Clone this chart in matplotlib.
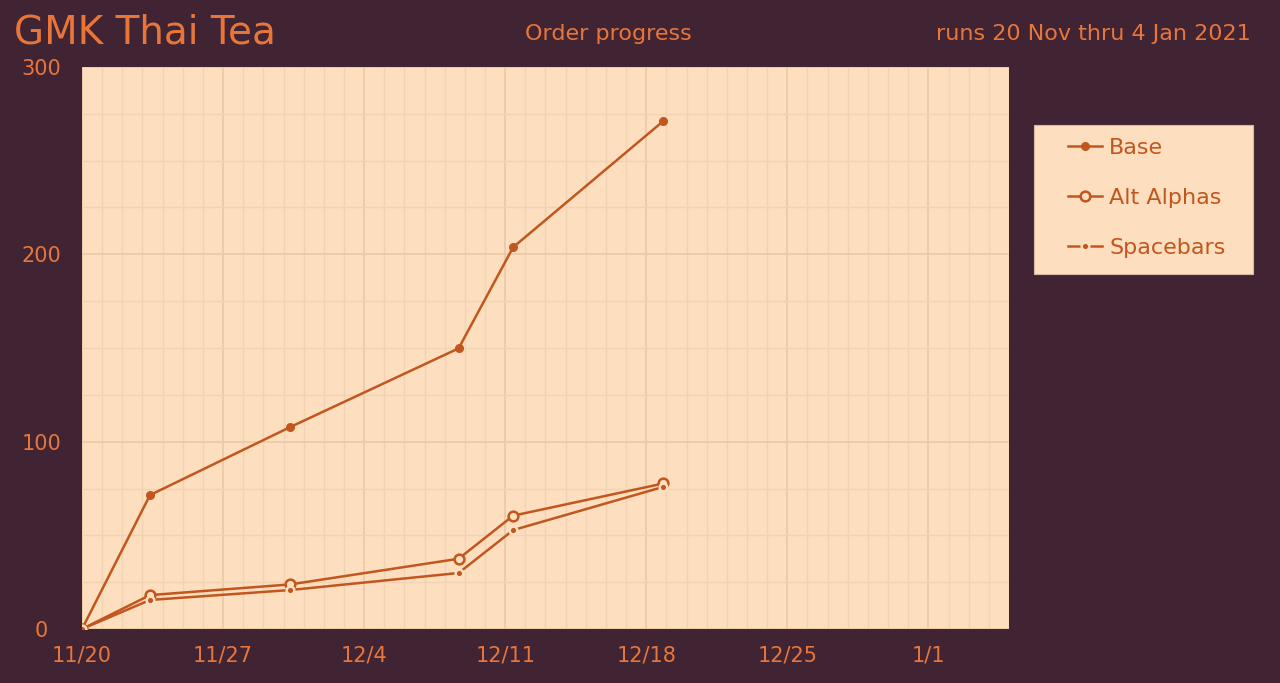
import matplotlib.pyplot as plt
import matplotlib.dates as mdates
from matplotlib.ticker import MultipleLocator
from matplotlib.patches import Rectangle
from datetime import datetime

# data
base_dates = ["2020-11-20 00:00", "2020-11-23 09:00", "2020-11-30 08:00",
              "2020-12-08 16:30", "2020-12-11 09:30", "2020-12-18 20:30"]
base = [0, 71.5, 107.8, 149.8, 203.8, 271.2]
alt_alphas = [0, 18.1, 23.8, 37.5, 60.5, 77.7]
spacebars = [0, 15.5, 20.8, 29.9, 52.8, 75.9]
x_ticks = ["2020-11-20", "2020-11-27", "2020-12-04", "2020-12-11",
           "2020-12-18", "2020-12-25", "2021-01-01"]
x_tick_labels = ["11/20", "11/27", "12/4", "12/11", "12/18", "12/25", "1/1"]
y_ticks = [0, 100, 200, 300]

dates = [datetime.strptime(d, "%Y-%m-%d %H:%M") for d in base_dates]
tick_dates = [datetime.strptime(d, "%Y-%m-%d") for d in x_ticks]

bg = "#402433"
panel = "#FDDFBF"
line_c = "#C2561F"
text_c = "#E8763A"

plt.rcParams['font.family'] = ['DejaVu Sans']

fig = plt.figure(figsize=(12.8, 6.83), dpi=100, facecolor=bg)
ax = fig.add_axes([82 / 1280, 54 / 683, 927 / 1280, 562 / 683])
ax.set_facecolor(panel)

ax.plot(dates, base, color=line_c, lw=1.8, marker='o', ms=5.5,
        mfc=line_c, mec=line_c, label="Base", zorder=4)
ax.plot(dates, alt_alphas, color=line_c, lw=1.8, marker='o', ms=7,
        mfc=panel, mec=line_c, mew=1.8, label="Alt Alphas", zorder=4)
ax.plot(dates, spacebars, color=line_c, lw=1.8, marker='o', ms=5.5,
        mfc=line_c, mec=panel, mew=1.8, label="Spacebars", zorder=5)

ax.set_xlim(datetime(2020, 11, 20), datetime(2021, 1, 5))
ax.set_ylim(0, 300)
ax.set_xticks(tick_dates)
ax.set_xticklabels(x_tick_labels)
ax.set_yticks(y_ticks, [str(v) for v in y_ticks], ha='center')
ax.xaxis.set_minor_locator(mdates.DayLocator())
ax.yaxis.set_minor_locator(MultipleLocator(25))

ax.grid(True, which='major', color="#EBC9A6", lw=1.2, zorder=0)
ax.grid(True, which='minor', color="#F0D3B3", lw=1.0, zorder=0)
ax.set_axisbelow(True)

ax.tick_params(which='both', length=0, colors=text_c, labelsize=15)
ax.tick_params(axis='x', pad=12)
ax.tick_params(axis='y', pad=29)
for s in ax.spines.values():
    s.set_visible(False)

fig.text(14 / 1280, 1 - 32 / 683, "GMK Thai Tea", color=text_c, fontsize=28,
         va='center', ha='left')
fig.text(608 / 1280, 1 - 34 / 683, "Order progress", color=text_c, fontsize=16,
         va='center', ha='center')
fig.text(1251 / 1280, 1 - 34 / 683, "runs 20 Nov thru 4 Jan 2021", color=text_c,
         fontsize=16, va='center', ha='right')

# legend box
fig.patches.append(Rectangle((1034 / 1280, 1 - 274 / 683), 219 / 1280, 149 / 683,
                             transform=fig.transFigure, facecolor=panel,
                             edgecolor="#D9B9A0", lw=0.8, zorder=1))
leg = fig.legend(loc='upper left', bbox_to_anchor=(1068 / 1280, 1 - 138 / 683),
                 frameon=False, fontsize=16, labelspacing=1.34,
                 handlelength=1.55, handletextpad=0.3, borderpad=0,
                 borderaxespad=0, labelcolor=line_c)
leg.set_zorder(2)

fig.savefig("out.png", dpi=100, facecolor=bg)
